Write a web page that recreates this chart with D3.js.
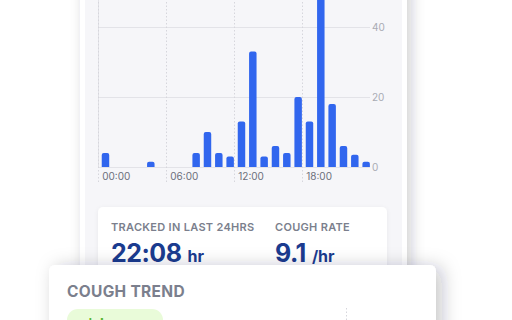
<!DOCTYPE html>
<html>
<head>
<meta charset="utf-8">
<script src="https://cdn.jsdelivr.net/npm/d3@7"></script>
<style>
  html, body { margin: 0; padding: 0; background: #ffffff; overflow: hidden; }
  svg { display: block; }
</style>
</head>
<body>
<div id="chart"></div>
<script>
(function () {
  'use strict';

  // ── Data ──
  var hours = [0, 1, 2, 3, 4, 5, 6, 7, 8, 9, 10, 11, 12, 13, 14, 15, 16, 17, 18, 19, 20, 21, 22, 23];
  var coughCounts = [4, 0, 0, 0, 1.5, 0, 0, 0, 4, 10, 4, 3, 13, 33, 3, 6, 4, 20, 13, 55, 18, 6, 3.5, 1.5];
  var tickHours = [0, 6, 12, 18];
  var tickLabels = ['00:00', '06:00', '12:00', '18:00'];
  var yTicks = [0, 20, 40];
  var statLabels = ['TRACKED IN LAST 24HRS', 'COUGH RATE'];
  var statValues = ['22:08', '9.1'];
  var statUnits = ['hr', '/hr'];
  var trendTitle = 'COUGH TREND';

  // ── Constants ──
  var W = 512, H = 320;
  var PLOT = { left: 98, right: 370, top: 0, bottom: 167 };
  var BAR_COLOR = '#3166ee';
  var PANEL_BG = '#f6f6f9';
  var GRID = '#e3e3e8';
  var DOT_GRID = '#d6d6dc';
  var NAVY = '#1b3b8f';
  var MUTED = '#7b7f8d';
  var FONT = 'Inter, "Open Sans", sans-serif';

  var svg = d3.select('#chart').append('svg')
    .attr('width', W)
    .attr('height', H);

  var defs = svg.append('defs');
  function shadow(id, dx, dy, sd, op) {
    defs.append('filter')
      .attr('id', id)
      .attr('x', '-30%').attr('y', '-30%')
      .attr('width', '160%').attr('height', '160%')
      .append('feDropShadow')
      .attr('dx', dx).attr('dy', dy)
      .attr('stdDeviation', sd)
      .attr('flood-color', '#1a1f36')
      .attr('flood-opacity', op);
  }
  shadow('phone-shadow', 4, 2, 7, 0.22);
  shadow('card-shadow', 0, 1, 2, 0.06);
  shadow('trend-shadow', 6, 2, 9, 0.25);

  // ── Phone frame ──
  svg.append('rect')
    .attr('x', 80).attr('y', -30)
    .attr('width', 327).attr('height', 380)
    .attr('rx', 8)
    .attr('fill', '#ffffff')
    .attr('filter', 'url(#phone-shadow)');

  svg.append('rect')
    .attr('x', 85).attr('y', -30)
    .attr('width', 317).attr('height', 380)
    .attr('fill', PANEL_BG);

  // ── Scales ──
  var x = d3.scaleBand()
    .domain(hours)
    .range([PLOT.left, PLOT.right])
    .paddingInner(0)
    .paddingOuter(0);

  var hourX = d3.scaleLinear()
    .domain([0, 24])
    .range([PLOT.left, PLOT.right]);

  var y = d3.scaleLinear()
    .domain([0, 40])
    .range([PLOT.bottom, 27]);

  var g = svg.append('g');

  // Horizontal grid + right labels
  var yG = g.append('g')
    .attr('transform', 'translate(' + PLOT.right + ',0)')
    .call(d3.axisRight(y)
      .tickValues(yTicks)
      .tickSize(-(PLOT.right - PLOT.left))
      .tickPadding(2));
  yG.select('.domain').remove();
  yG.selectAll('.tick line').attr('stroke', GRID).attr('stroke-width', 1);
  yG.selectAll('.tick text')
    .attr('fill', '#a9abb4')
    .attr('font-size', '10px')
    .attr('font-family', FONT);

  // Left solid axis line
  g.append('line')
    .attr('x1', PLOT.left + 0.5).attr('x2', PLOT.left + 0.5)
    .attr('y1', -5).attr('y2', PLOT.bottom)
    .attr('stroke', GRID);

  // Dotted hour lines
  g.selectAll('.hour-line')
    .data(tickHours)
    .join('line')
    .attr('class', 'hour-line')
    .attr('x1', function (d) { return Math.round(hourX(d)) + 0.5; })
    .attr('x2', function (d) { return Math.round(hourX(d)) + 0.5; })
    .attr('y1', -5)
    .attr('y2', 182)
    .attr('stroke', DOT_GRID)
    .attr('stroke-dasharray', '1.5,2');

  // ── Bars (rounded top) ──
  var barW = x.step() * 0.66;
  var barOff = x.step() * 0.33;
  var R = 2;
  function barPath(d, i) {
    var x0 = x(hours[i]) + barOff;
    var x1 = x0 + barW;
    var y0 = y(0);
    var y1 = y(d);
    var r = Math.min(R, (y0 - y1) / 2);
    return 'M' + x0 + ',' + y0 +
      'V' + (y1 + r) +
      'Q' + x0 + ',' + y1 + ' ' + (x0 + r) + ',' + y1 +
      'H' + (x1 - r) +
      'Q' + x1 + ',' + y1 + ' ' + x1 + ',' + (y1 + r) +
      'V' + y0 + 'Z';
  }
  g.selectAll('.bar')
    .data(coughCounts)
    .join('path')
    .attr('class', 'bar')
    .attr('d', function (d, i) { return d > 0 ? barPath(d, i) : null; })
    .attr('fill', BAR_COLOR);

  // X labels
  var xG = g.append('g')
    .attr('transform', 'translate(0,' + PLOT.bottom + ')')
    .call(d3.axisBottom(hourX)
      .tickValues(tickHours)
      .tickFormat(function (d, i) { return tickLabels[i]; })
      .tickSize(0)
      .tickPadding(6));
  xG.select('.domain').remove();
  xG.selectAll('.tick text')
    .attr('text-anchor', 'start')
    .attr('dx', barOff)
    .attr('fill', '#6c6f7b')
    .attr('font-size', '10px')
    .attr('font-family', FONT);

  // ── Stats card ──
  svg.append('rect')
    .attr('x', 98).attr('y', 207)
    .attr('width', 289).attr('height', 90)
    .attr('rx', 5)
    .attr('fill', '#ffffff')
    .attr('filter', 'url(#card-shadow)');

  var statX = [111, 275];
  statLabels.forEach(function (lbl, i) {
    svg.append('text')
      .attr('x', statX[i]).attr('y', 231)
      .attr('fill', MUTED)
      .attr('font-family', FONT)
      .attr('font-weight', 600)
      .attr('font-size', '11px')
      .attr('letter-spacing', '0.3px')
      .text(lbl);

    var t = svg.append('text')
      .attr('x', statX[i]).attr('y', 262)
      .attr('fill', NAVY)
      .attr('font-family', FONT)
      .attr('font-weight', 700);
    t.append('tspan')
      .attr('font-size', '25px')
      .attr('letter-spacing', '-0.5px')
      .text(statValues[i]);
    t.append('tspan')
      .attr('font-size', '16px')
      .attr('dx', 6)
      .text(statUnits[i]);
  });

  // ── Trend card ──
  svg.append('rect')
    .attr('x', 49).attr('y', 265)
    .attr('width', 387).attr('height', 90)
    .attr('rx', 6)
    .attr('fill', '#ffffff')
    .attr('filter', 'url(#trend-shadow)');

  svg.append('text')
    .attr('x', 67).attr('y', 297)
    .attr('fill', MUTED)
    .attr('font-family', FONT)
    .attr('font-weight', 700)
    .attr('font-size', '15.5px')
    .attr('letter-spacing', '0.3px')
    .text(trendTitle);

  svg.append('rect')
    .attr('x', 67).attr('y', 309)
    .attr('width', 96).attr('height', 30)
    .attr('rx', 11)
    .attr('fill', '#e9fbd9');

  svg.append('text')
    .attr('x', 84).attr('y', 329)
    .attr('fill', '#57b52c')
    .attr('font-family', FONT)
    .attr('font-weight', 700)
    .attr('font-size', '14px')
    .text('↓ lower');

  svg.append('line')
    .attr('x1', 346.5).attr('x2', 346.5)
    .attr('y1', 308).attr('y2', 320)
    .attr('stroke', DOT_GRID)
    .attr('stroke-dasharray', '1.5,2');
})();
</script>
</body>
</html>
